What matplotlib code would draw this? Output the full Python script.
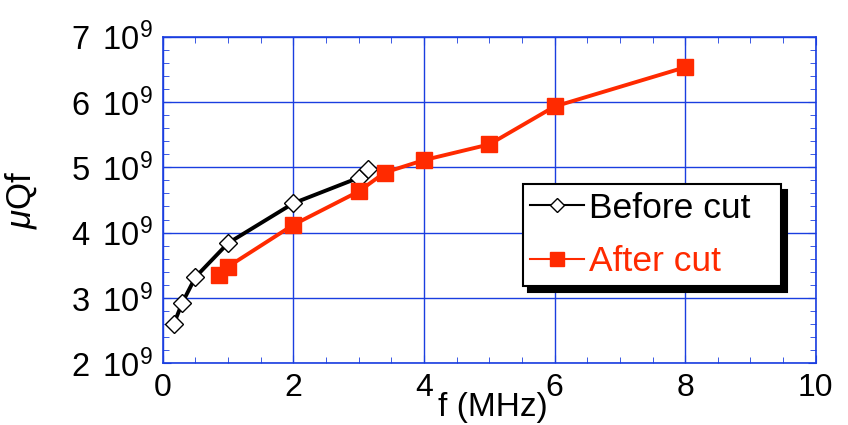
import matplotlib
matplotlib.use("Agg")
import matplotlib.pyplot as plt
from matplotlib.ticker import FuncFormatter, MultipleLocator

plt.rcParams["font.family"] = ["Liberation Sans", "DejaVu Sans"]
plt.rcParams["mathtext.fontset"] = "custom"
plt.rcParams["mathtext.rm"] = "Liberation Sans"
plt.rcParams["mathtext.it"] = "Liberation Sans:italic"

# measured data
f_before = [0.17, 0.30, 0.50, 1.0, 2.0, 3.0, 3.15]
uqf_before = [2.61e9, 2.93e9, 3.32e9, 3.84e9, 4.45e9, 4.84e9, 4.97e9]
f_after = [0.86, 1.0, 2.0, 3.0, 3.4, 4.0, 5.0, 6.0, 8.0]
uqf_after = [3.35e9, 3.48e9, 4.12e9, 4.63e9, 4.92e9, 5.11e9, 5.35e9, 5.93e9, 6.53e9]

blue = "#1a3ee0"
red = "#ff2a00"

fig = plt.figure(figsize=(8.48, 4.25), dpi=100)
ax = fig.add_axes([0.192, 0.145, 0.770, 0.769])

ax.plot(f_before, uqf_before, color="black", lw=2.8, marker="D", markersize=9,
        markerfacecolor="white", markeredgecolor="black", markeredgewidth=1.0,
        label="Before cut", zorder=3)
ax.plot(f_after, uqf_after, color=red, lw=2.8, marker="s", markersize=11,
        markerfacecolor=red, markeredgecolor=red, label="After cut", zorder=4)

ax.set_xlim(0, 10)
ax.set_ylim(2e9, 7e9)
ax.xaxis.set_major_locator(MultipleLocator(2))
ax.xaxis.set_minor_locator(MultipleLocator(0.5))
ax.yaxis.set_major_locator(MultipleLocator(1e9))
ax.yaxis.set_minor_locator(MultipleLocator(0.2e9))
ax.yaxis.set_major_formatter(FuncFormatter(lambda v, p: r"$\mathregular{%d\ \,10^{9}}$" % round(v / 1e9)))

ax.grid(True, which="major", color=blue, lw=1.0)
for s in ax.spines.values():
    s.set_color(blue)
    s.set_linewidth(1.2)
ax.tick_params(which="both", direction="in", color=blue, top=True, right=True)
ax.tick_params(which="major", length=6)
ax.tick_params(which="minor", length=4)
ax.tick_params(axis="y", pad=7, labelsize=23.5)
ax.tick_params(axis="x", pad=7, labelsize=23)

ax.set_xlabel("f (MHz)", fontsize=24)
ax.xaxis.set_label_coords(0.506, -0.087)
ax.xaxis.label.set_va("top")
ax.set_ylabel(r"$\mathit{\mu}$Qf", fontsize=25)
ax.yaxis.set_label_coords(-0.19, 0.5)

leg = ax.legend(loc="upper left", bbox_to_anchor=(0.551, 0.234, 0.396, 0.315),
                mode="expand", borderaxespad=0,
                fontsize=25.5, frameon=True, fancybox=False, handlelength=1.5,
                handletextpad=0.15, borderpad=0.22, labelspacing=0.58,
                shadow={"color": "black", "alpha": 1.0, "ox": 4, "oy": -4})
leg.get_frame().set_edgecolor("black")
leg.get_frame().set_linewidth(1.5)
leg.get_frame().set_alpha(1)
leg.get_texts()[1].set_color(red)
for h in leg.legend_handles:
    h.set_linewidth(1.5)
leg.legend_handles[0].set_markersize(7)
leg.legend_handles[1].set_markersize(10)

fig.savefig("out.png", dpi=100)
